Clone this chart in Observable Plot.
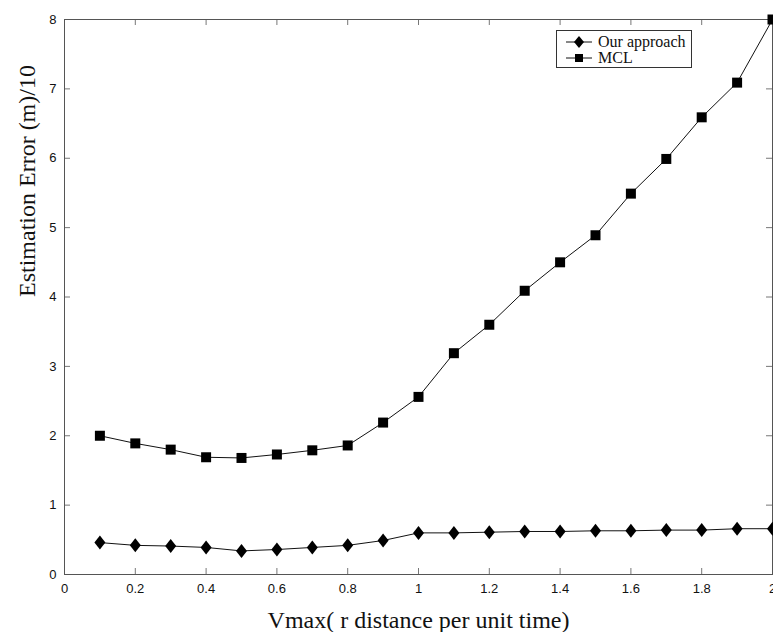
<!DOCTYPE html>
<html>
<head>
<meta charset="utf-8">
<script src="https://cdn.jsdelivr.net/npm/d3@7"></script>
<script src="https://cdn.jsdelivr.net/npm/@observablehq/plot@0.6"></script>
<style>
  html, body { margin: 0; padding: 0; background: #fff; }
  #wrap { position: relative; width: 773px; height: 632px; }
  #legend { position: absolute; left: 556px; top: 30px; width: 134px; height: 36px;
    border: 1px solid #333; background: #fff; font-family: "Liberation Serif", "Times New Roman", serif;
    font-size: 16px; color: #111; }
  .item { position: absolute; left: 8px; height: 17px; display: flex; align-items: center; }
  .item svg { margin-right: 5px; }
</style>
</head>
<body>
<div id="wrap">
  <div id="chart"></div>
  <div id="legend"></div>
</div>
<script>
const vmax = [0.1, 0.2, 0.3, 0.4, 0.5, 0.6, 0.7, 0.8, 0.9, 1.0, 1.1, 1.2, 1.3, 1.4, 1.5, 1.6, 1.7, 1.8, 1.9, 2.0];
const ourApproach = [0.46, 0.42, 0.41, 0.39, 0.34, 0.36, 0.39, 0.42, 0.49, 0.60, 0.60, 0.61, 0.62, 0.62, 0.63, 0.63, 0.64, 0.64, 0.66, 0.66];
const mcl = [2.00, 1.89, 1.80, 1.69, 1.68, 1.73, 1.79, 1.86, 2.19, 2.56, 3.19, 3.60, 4.09, 4.50, 4.89, 5.49, 5.99, 6.59, 7.09, 8.00];
const seriesNames = ["Our approach", "MCL"];
const xTicks = [0, 0.2, 0.4, 0.6, 0.8, 1, 1.2, 1.4, 1.6, 1.8, 2];
const yTicks = [0, 1, 2, 3, 4, 5, 6, 7, 8];
const xLabel = "Vmax( r distance per unit time)";
const yLabel = "Estimation Error (m)/10";

const rows = [];
vmax.forEach((v, i) => {
  rows.push({x: v, y: ourApproach[i], s: seriesNames[0]});
  rows.push({x: v, y: mcl[i], s: seriesNames[1]});
});

const diamondSym = {draw(ctx) { const w = 5.5, h = 7; ctx.moveTo(0, -h); ctx.lineTo(w, 0); ctx.lineTo(0, h); ctx.lineTo(-w, 0); ctx.closePath(); }};
const squareSym = {draw(ctx) { const s = 5; ctx.rect(-s, -s, 2 * s, 2 * s); }};

const W = 773, H = 632, mL = 64, mR = 1, mT = 19, mB = 58;
const innerH = H - mT - mB, innerW = W - mL - mR;
const tk = 6;
const sans = "'Liberation Sans', Arial, Helvetica, sans-serif";
const serif = "'Liberation Serif', 'Times New Roman', serif";

const chart = Plot.plot({
  width: W, height: H,
  marginLeft: mL, marginRight: mR, marginTop: mT, marginBottom: mB,
  x: {domain: [0, 2]},
  y: {domain: [0, 8]},
  style: {background: "#fff"},
  marks: [
    Plot.axisX({ticks: xTicks, tickSize: 0, tickPadding: 9, tickFormat: d => String(d), fontSize: 13, fontFamily: sans, fill: "#111", label: null}),
    Plot.axisY({ticks: yTicks, tickSize: 0, tickPadding: 8, tickFormat: d => String(d), fontSize: 13, fontFamily: sans, fill: "#111", label: null}),
    Plot.tickX(xTicks, {x: d => d, insetTop: innerH - tk, stroke: "#777"}),
    Plot.tickX(xTicks, {x: d => d, insetBottom: innerH - tk, stroke: "#777"}),
    Plot.tickY(yTicks, {y: d => d, insetRight: innerW - tk, stroke: "#777"}),
    Plot.tickY(yTicks, {y: d => d, insetLeft: innerW - tk, stroke: "#777"}),
    Plot.frame({stroke: "#555"}),
    Plot.line(rows, {x: "x", y: "y", z: "s", stroke: "#111", strokeWidth: 1}),
    Plot.dot(rows.filter(d => d.s === seriesNames[0]), {x: "x", y: "y", symbol: () => diamondSym, fill: "#000", stroke: "none"}),
    Plot.dot(rows.filter(d => d.s === seriesNames[1]), {x: "x", y: "y", symbol: () => squareSym, fill: "#000", stroke: "none"}),
    Plot.text([xLabel], {frameAnchor: "bottom", text: d => d, dy: 46, fontFamily: serif, fontSize: 24, fill: "#111", lineAnchor: "middle"}),
    Plot.text([yLabel], {frameAnchor: "left", text: d => d, dx: -37, rotate: -90, fontFamily: serif, fontSize: 24, fill: "#111"})
  ]
});
document.getElementById("chart").appendChild(chart);

// Legend
const legend = document.getElementById("legend");
seriesNames.forEach((name, i) => {
  const item = document.createElement("div");
  item.className = "item";
  item.style.top = (i === 0 ? 2 : 18) + "px";
  const svg = d3.create("svg").attr("width", 28).attr("height", 16);
  svg.append("line").attr("x1", 1).attr("x2", 27).attr("y1", 8).attr("y2", 8).attr("stroke", "#111");
  if (i === 0) svg.append("path").attr("d", "M14,2 L19,8 L14,14 L9,8 Z").attr("fill", "#000");
  else svg.append("rect").attr("x", 10).attr("y", 4).attr("width", 8).attr("height", 8).attr("fill", "#000");
  item.appendChild(svg.node());
  const span = document.createElement("span");
  span.textContent = name;
  item.appendChild(span);
  legend.appendChild(item);
});
</script>
</body>
</html>
